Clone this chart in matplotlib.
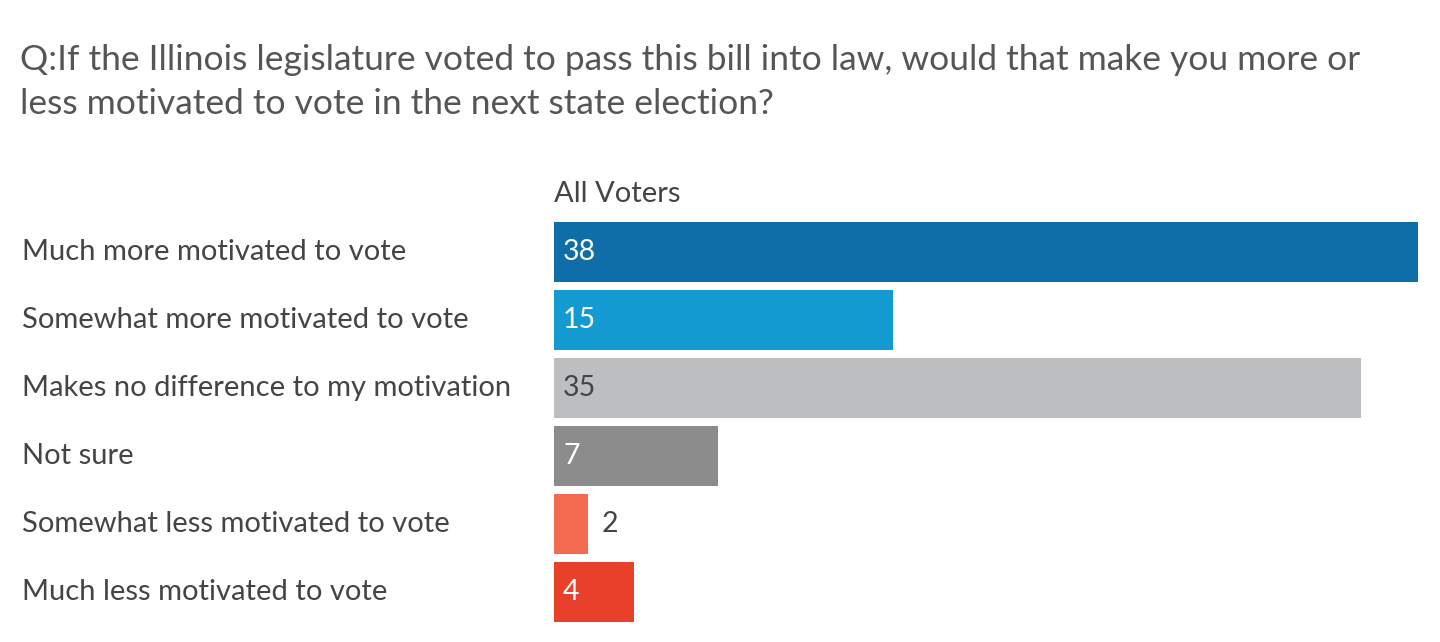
import matplotlib
matplotlib.use("Agg")
import matplotlib.pyplot as plt

categories = [
    "Much more motivated to vote",
    "Somewhat more motivated to vote",
    "Makes no difference to my motivation",
    "Not sure",
    "Somewhat less motivated to vote",
    "Much less motivated to vote",
]
values = [38.0, 14.9, 35.5, 7.2, 1.5, 3.5]
value_labels = ["38", "15", "35", "7", "2", "4"]
colors = ["#0f6ea8", "#139bd1", "#bdbec0", "#8c8c8c", "#f26b50", "#e8402a"]
label_colors = ["white", "white", "#444444", "white", "#444444", "white"]
label_inside = [True, True, True, True, False, True]
series_name = "All Voters"
title = ("Q:If the Illinois legislature voted to pass this bill into law, would that make you more or\n"
         "less motivated to vote in the next state election?")

plt.rcParams['font.family'] = ['Lato', 'DejaVu Sans']
W, H = 1440, 642
fig = plt.figure(figsize=(W / 100, H / 100), dpi=100)
fig.patch.set_facecolor("white")

x0, x1 = 554, 1418
y_top, y_bot = 222, 622
ax = fig.add_axes([x0 / W, 1 - y_bot / H, (x1 - x0) / W, (y_bot - y_top) / H])
n = len(categories)
pos = list(range(n))
ax.barh(pos, values, height=0.88, color=colors, align='center')
ax.set_ylim(n - 1 + 0.44, -0.44)
ax.set_xlim(0, 38.0)
ax.axis('off')

for i, (v, lab) in enumerate(zip(values, value_labels)):
    x = 0.4 if label_inside[i] else v + 0.6
    ax.text(x, i, lab, va='center', ha='left', fontsize=20.5, color=label_colors[i])

for i, cat in enumerate(categories):
    ax.text(-(554 - 22) / 864 * 38.0, i, cat, va='center', ha='left', fontsize=21,
            color="#444444")

ax.text(0, -0.44 - 0.22, series_name, va='bottom', ha='left', fontsize=21, color="#444444")

fig.text(20 / W, 1 - 44 / H, title, va='top', ha='left', fontsize=25.5, color="#555555",
         linespacing=1.45)

fig.savefig("out.png", dpi=100, facecolor="white")
